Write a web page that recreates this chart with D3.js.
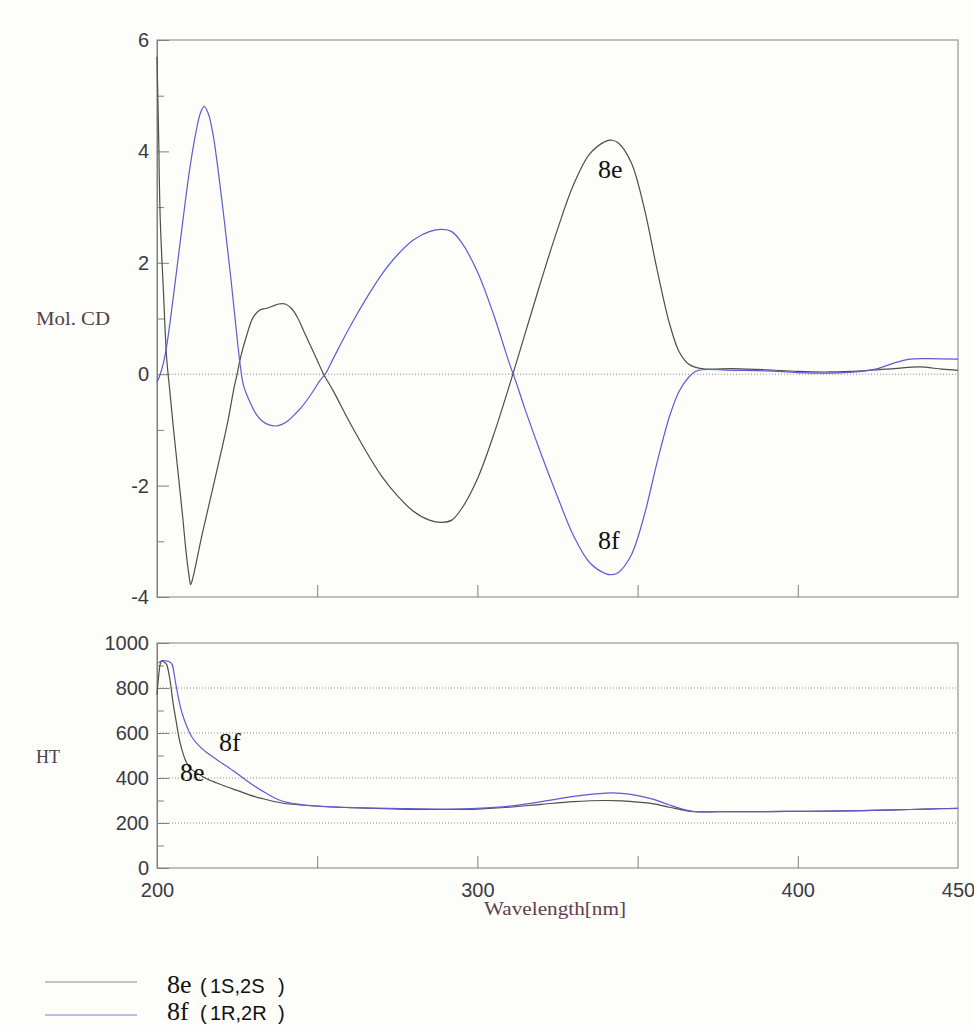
<!DOCTYPE html>
<html><head><meta charset="utf-8">
<script src="https://cdn.jsdelivr.net/npm/d3@7"></script>
<style>body{margin:0;background:#fdfdf9}svg{display:block}</style>
</head><body>
<svg id="c" width="974" height="1030"></svg>
<script>
// ---- data ----
const cdWl8e = [200,200.5,201,202,203,204,205,206,207,208,209,210,210.5,211,212,214,216,218,220,222,224,225,226,228,230,232,234,236,238,240,242,244,246,248,250,252,255,260,265,270,275,280,285,289,292,295,300,305,310,315,320,325,330,335,340,342,344,348,352,356,360,363,366,370,380,390,400,410,420,430,438,445,450];
const cd8e   = [5.7,4.3,2.8,1.5,0.3,-0.3,-0.9,-1.45,-2.0,-2.55,-3.15,-3.62,-3.78,-3.7,-3.45,-2.9,-2.4,-1.9,-1.4,-0.88,-0.26,0.0,0.28,0.7,1.02,1.15,1.18,1.22,1.26,1.26,1.18,1.0,0.75,0.5,0.25,0.0,-0.3,-0.85,-1.36,-1.82,-2.18,-2.46,-2.62,-2.66,-2.62,-2.42,-1.88,-1.1,-0.2,0.75,1.7,2.6,3.4,3.95,4.18,4.2,4.15,3.8,3.0,1.9,0.9,0.4,0.18,0.1,0.1,0.08,0.05,0.04,0.06,0.1,0.13,0.09,0.07];
const cdWl8f = [200,201,202,203,204,206,208,210,212,213.5,214.7,216,217.5,219,221,223,225,226,227,229,231,233,235,237,239,241,243,245,247,249,251,252.5,255,260,265,270,275,280,285,289,292,295,300,305,310,312,315,320,325,330,335,340,342,344,348,352,356,360,363,366,368,370,380,390,400,410,420,425,430,435,440,450];
const cd8f   = [-0.15,0.0,0.2,0.5,0.9,1.8,2.72,3.6,4.3,4.68,4.81,4.68,4.3,3.7,2.76,1.75,0.65,0.15,-0.2,-0.5,-0.72,-0.85,-0.91,-0.93,-0.9,-0.83,-0.72,-0.6,-0.45,-0.28,-0.1,0.0,0.28,0.83,1.33,1.78,2.14,2.41,2.56,2.6,2.56,2.37,1.84,1.08,0.19,-0.13,-0.65,-1.45,-2.2,-2.9,-3.38,-3.58,-3.6,-3.56,-3.25,-2.55,-1.6,-0.75,-0.3,-0.05,0.05,0.08,0.07,0.06,0.03,0.02,0.05,0.1,0.2,0.27,0.28,0.27];

const htWl8e = [200,200.5,201,201.5,202,202.5,203,204,205,206,207,208,209,210,211,212.5,215,218.7,222,225,229,233,239,245,255,265,276,290,300,310,320,330,340,345,350,355,360,365,368,375,390,400,410,420,430,440,450];
const ht8e   = [770,850,905,920,918,912,905,840,735,650,570,515,475,450,435,422,400,378,360,345,324,308,289,280,271,266,262,260,262,270,283,295,300,298,293,285,270,255,250,250,251,252,253,255,258,262,265];
const htWl8f = [200.5,201,202,203,204,204.7,205.6,206.3,207,208,209.4,211,213,215.6,219,223.8,229,234,239,245,250,258,265,276,290,300,310,320,330,340,345,350,355,360,365,368,375,390,400,410,420,430,440,450];
const ht8f   = [910,918,922,920,916,905,840,785,735,680,627,580,545,512,478,432,378,333,298,282,275,270,267,264,262,265,275,295,318,333,332,322,305,280,258,250,250,251,252,253,255,258,262,265];

const xTickLabels = [200,300,400,450];
const xTicks = [250,300,350,400];
const cdTicks = [-4,-2,0,2,4,6];
const cdMinor = [-3,-1,1,3,5];
const htTicks = [0,200,400,600,800,1000];
const htMinor = [100,300,500,700,900];
const htGrid = [200,400,600,800];

// ---- drawing ----
const svg = d3.select('#c');
svg.append('rect').attr('width',974).attr('height',1030).attr('fill','#fdfdf9');

const x = d3.scaleLinear([200,450],[157,958]);
const yCD = d3.scaleLinear([-4,6],[597,40]);
const yHT = d3.scaleLinear([0,1000],[868,643]);

const axisColor = '#808080';
const labelColor = '#3a3a44';
const sans = "'Liberation Sans', Arial, sans-serif";
const serif = "'Liberation Serif', 'Times New Roman', serif";
const col8e = '#4d4d4d', col8f = '#5c5cd2';
const fmt = d => String(d);

function frame(y0, y1){
  svg.append('rect').attr('x',157).attr('y',y0).attr('width',958-157).attr('height',y1-y0)
    .attr('fill','none').attr('stroke',axisColor).attr('stroke-width',1);
}
frame(40,597);
frame(643,868);

function styleAxis(g){
  g.select('.domain').attr('stroke',axisColor);
  g.selectAll('.tick line').attr('stroke',axisColor);
  g.selectAll('.tick text').attr('fill',labelColor).attr('font-family',sans).attr('font-size',20);
}

// top panel axes
svg.append('g').attr('transform','translate(157,0)')
  .call(d3.axisLeft(yCD).tickValues(cdTicks).tickSize(-12).tickPadding(8).tickFormat(fmt))
  .call(styleAxis);
svg.append('g').attr('transform','translate(157,0)')
  .call(d3.axisLeft(yCD).tickValues(cdMinor).tickSize(-7).tickFormat(''))
  .call(styleAxis);
svg.append('g').attr('transform','translate(0,597)')
  .call(d3.axisBottom(x).tickValues(xTicks).tickSize(-12).tickFormat(''))
  .call(styleAxis).select('.domain').remove();

// zero line
svg.append('line').attr('x1',157).attr('x2',958).attr('y1',yCD(0)).attr('y2',yCD(0))
  .attr('stroke','#8a8a8a').attr('stroke-dasharray','1,2');

// bottom panel axes
svg.append('g').attr('transform','translate(157,0)')
  .call(d3.axisLeft(yHT).tickValues(htTicks).tickSize(-12).tickPadding(8).tickFormat(fmt))
  .call(styleAxis);
svg.append('g').attr('transform','translate(157,0)')
  .call(d3.axisLeft(yHT).tickValues(htMinor).tickSize(-7).tickFormat(''))
  .call(styleAxis);
svg.append('g').attr('transform','translate(0,868)')
  .call(d3.axisBottom(x).tickValues(xTicks).tickSize(-12).tickFormat(''))
  .call(styleAxis).select('.domain').remove();
svg.append('g').attr('transform','translate(0,868)')
  .call(d3.axisBottom(x).tickValues(xTickLabels).tickSize(0).tickPadding(15).tickFormat(fmt))
  .call(styleAxis).select('.domain').remove();

// grid lines
svg.append('g').selectAll('line').data(htGrid).join('line')
  .attr('x1',157).attr('x2',958).attr('y1',d=>yHT(d)).attr('y2',d=>yHT(d))
  .attr('stroke','#8a8a8a').attr('stroke-dasharray','1,2');

// curves
function curve(wl, vals, y, color){
  const pts = wl.map((w,i)=>[w, vals[i]]);
  const line = d3.line().x(d=>x(d[0])).y(d=>y(d[1])).curve(d3.curveCatmullRom.alpha(0.5));
  svg.append('path').attr('d', line(pts)).attr('fill','none')
    .attr('stroke',color).attr('stroke-width',1.2);
}
curve(cdWl8e, cd8e, yCD, col8e);
curve(cdWl8f, cd8f, yCD, col8f);
curve(htWl8e, ht8e, yHT, col8e);
curve(htWl8f, ht8f, yHT, col8f);

// curve labels
function lbl(t, xx, yy){
  svg.append('text').attr('x',xx).attr('y',yy).text(t)
    .attr('font-family',serif).attr('font-size',26).attr('fill','#111');
}
lbl('8e',598,178);
lbl('8f',598,549);
lbl('8f',219,751);
lbl('8e',180,781);

// axis titles
svg.append('text').attr('x',36).attr('y',325).text('Mol. CD')
  .attr('font-family',serif).attr('font-size',18).attr('fill','#4e3e4e')
  .attr('textLength',74).attr('lengthAdjust','spacingAndGlyphs');
svg.append('text').attr('x',36).attr('y',763).text('HT')
  .attr('font-family',serif).attr('font-size',18).attr('fill','#4e3e4e');
svg.append('text').attr('x',484).attr('y',915).text('Wavelength[nm]')
  .attr('font-family',serif).attr('font-size',19).attr('fill','#5e3e52')
  .attr('textLength',142).attr('lengthAdjust','spacingAndGlyphs');

// legend
const legend = [{name:'8e', conf:'1S,2S', color:'#8a8a90', y:982, ty:993},
                {name:'8f', conf:'1R,2R', color:'#7a7ad8', y:1015, ty:1020}];
legend.forEach(d=>{
  svg.append('line').attr('x1',45).attr('x2',137).attr('y1',d.y).attr('y2',d.y)
    .attr('stroke',d.color).attr('stroke-width',1);
  svg.append('text').attr('x',167).attr('y',d.ty).text(d.name)
    .attr('font-family',serif).attr('font-size',26).attr('fill','#111');
  svg.append('text').attr('x',200).attr('y',d.ty).text('(')
    .attr('font-family',sans).attr('font-size',20).attr('fill','#111');
  svg.append('text').attr('x',210).attr('y',d.ty).text(d.conf)
    .attr('font-family',sans).attr('font-size',20).attr('fill','#111');
  svg.append('text').attr('x',278).attr('y',d.ty).text(')')
    .attr('font-family',sans).attr('font-size',20).attr('fill','#111');
});
</script>
</body></html>
